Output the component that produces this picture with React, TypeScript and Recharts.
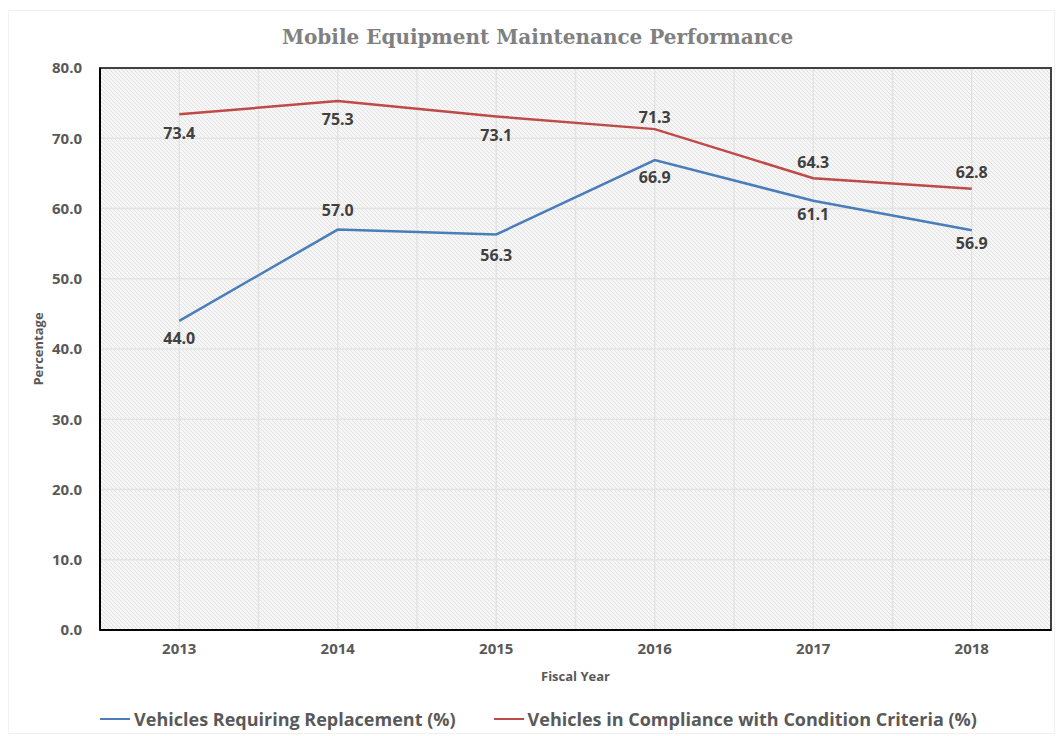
import React from 'react';
import {
  LineChart,
  Line,
  XAxis,
  YAxis,
  CartesianGrid,
  Legend,
  LabelList,
  Label,
  ReferenceArea,
} from 'recharts';

// Fiscal years shown on the category axis
const YEARS = ['2013', '2014', '2015', '2016', '2017', '2018'];
// Vehicles requiring replacement, percent
const REPLACEMENT = [44.0, 57.0, 56.3, 66.9, 61.1, 56.9];
// Vehicles in compliance with condition criteria, percent
const COMPLIANCE = [73.4, 75.3, 73.1, 71.3, 64.3, 62.8];
// Percentage axis ticks
const Y_TICKS = [0, 10, 20, 30, 40, 50, 60, 70, 80];

const SERIES_NAMES = {
  replacement: 'Vehicles Requiring Replacement (%)',
  compliance: 'Vehicles in Compliance with Condition Criteria (%)',
};

// Vertical nudge of each value label relative to its point (positive = below)
const REPLACEMENT_LABEL_DY = [17, -20, 21, 17, 13, 13];
const COMPLIANCE_LABEL_DY = [19, 18, 19, -12, -16, -17];

const BLUE = '#4a7ebb';
const RED = '#be4b48';
const FONT = '"Open Sans", "Liberation Sans", sans-serif';

// Each year sits on an integer slot; grid lines fall on the slots and halfway between them
const data = YEARS.map((year, i) => ({
  slot: i,
  year,
  replacement: REPLACEMENT[i],
  compliance: COMPLIANCE[i],
}));
const X_MIN = -0.5;
const X_MAX = YEARS.length - 0.5;
const X_TICKS: number[] = [];
for (let t = X_MIN; t <= X_MAX + 1e-9; t += 0.5) X_TICKS.push(t);

const yearLabel = (v: number) => (Number.isInteger(v) && YEARS[v] ? YEARS[v] : '');

const valueLabel = (offsets: number[]) => (props: any) => {
  const { x, y, value, index } = props;
  return (
    <text
      x={x}
      y={y + offsets[index]}
      textAnchor="middle"
      dominantBaseline="central"
      fill="#404040"
      fontFamily={FONT}
      fontWeight={700}
      fontSize={16}
    >
      {Number(value).toFixed(1)}
    </text>
  );
};

const LegendContent = () => (
  <div
    style={{
      height: 44,
      display: 'flex',
      justifyContent: 'center',
      alignItems: 'flex-start',
      paddingTop: 16,
      paddingLeft: 26,
      boxSizing: 'border-box',
      fontFamily: FONT,
      fontWeight: 700,
      fontSize: 18,
      color: '#595959',
    }}
  >
    {[
      { name: SERIES_NAMES.replacement, color: BLUE },
      { name: SERIES_NAMES.compliance, color: RED },
    ].map((item, i) => (
      <div
        key={item.name}
        style={{ display: 'flex', alignItems: 'center', marginLeft: i ? 38 : 0, lineHeight: '22px' }}
      >
        <span style={{ display: 'inline-block', width: 30, height: 2.5, background: item.color, marginRight: 4 }} />
        <span>{item.name}</span>
      </div>
    ))}
  </div>
);

export default function App() {
  return (
    <div
      style={{
        position: 'absolute',
        left: 0,
        top: 0,
        width: 1057,
        height: 736,
        background: '#ffffff',
      }}
    >
      <div
        style={{
          position: 'absolute',
          left: 8,
          top: 10,
          width: 1047,
          height: 724,
          border: '1px solid #f1f1f1',
          boxSizing: 'border-box',
        }}
      />
      <div
        style={{
          position: 'absolute',
          left: 0,
          top: 22,
          width: 1075,
          textAlign: 'center',
          fontFamily: '"DejaVu Serif", serif',
          fontWeight: 700,
          fontSize: 20,
          lineHeight: '30px',
          color: '#808080',
        }}
      >
        Mobile Equipment Maintenance Performance
      </div>
      <LineChart
        width={1057}
        height={736}
        data={data}
        margin={{ top: 68, right: 6, bottom: 0, left: 0 }}
      >
        <defs>
          <pattern id="hatch" width="4" height="4" patternUnits="userSpaceOnUse">
            <rect width="4" height="4" fill="#f6f6f6" />
            <path d="M-1,-1 L5,5 M3,-1 L5,1 M-1,3 L1,5" stroke="#e0e0e0" strokeWidth="0.9" />
          </pattern>
        </defs>
        <CartesianGrid
          xAxisId="main"
          yAxisId="main"
          fill="url(#hatch)"
          fillOpacity={1}
          stroke="#e3e3e3"
          strokeWidth={1.5}
        />
        <XAxis
          xAxisId="main"
          dataKey="slot"
          type="number"
          domain={[X_MIN, X_MAX]}
          ticks={X_TICKS}
          tickFormatter={yearLabel}
          interval={0}
          height={62}
          tickLine={false}
          tickSize={0}
          tickMargin={13}
          axisLine={{ stroke: '#000000', strokeWidth: 2 }}
          tick={{ fill: '#595959', fontFamily: FONT, fontWeight: 700, fontSize: 15 }}
        >
          <Label
            value="Fiscal Year"
            position="insideBottom"
            offset={11}
            style={{ fill: '#595959', fontFamily: FONT, fontWeight: 700, fontSize: 13 }}
          />
        </XAxis>
        <YAxis
          yAxisId="main"
          domain={[0, 80]}
          ticks={Y_TICKS}
          tickFormatter={(v: number) => v.toFixed(1)}
          width={100}
          tickLine={false}
          tickSize={0}
          tickMargin={18}
          axisLine={{ stroke: '#000000', strokeWidth: 2 }}
          tick={{ fill: '#595959', fontFamily: FONT, fontWeight: 700, fontSize: 15 }}
        >
          <Label
            value="Percentage"
            angle={-90}
            position="insideLeft"
            offset={38}
            style={{ textAnchor: 'middle', fill: '#595959', fontFamily: FONT, fontWeight: 700, fontSize: 13 }}
          />
        </YAxis>
        {/* plot frame */}
        <ReferenceArea
          xAxisId="main"
          yAxisId="main"
          x1={X_MIN}
          x2={X_MAX}
          y1={0}
          y2={80}
          fill="none"
          fillOpacity={0}
          stroke="#404040"
          strokeWidth={2}
          ifOverflow="visible"
        />
        <Legend verticalAlign="bottom" content={<LegendContent />} />
        <Line
          xAxisId="main"
          yAxisId="main"
          type="linear"
          dataKey="replacement"
          name={SERIES_NAMES.replacement}
          stroke={BLUE}
          strokeWidth={2.5}
          dot={false}
          activeDot={false}
          isAnimationActive={false}
        >
          <LabelList dataKey="replacement" content={valueLabel(REPLACEMENT_LABEL_DY)} />
        </Line>
        <Line
          xAxisId="main"
          yAxisId="main"
          type="linear"
          dataKey="compliance"
          name={SERIES_NAMES.compliance}
          stroke={RED}
          strokeWidth={2.5}
          dot={false}
          activeDot={false}
          isAnimationActive={false}
        >
          <LabelList dataKey="compliance" content={valueLabel(COMPLIANCE_LABEL_DY)} />
        </Line>
      </LineChart>
    </div>
  );
}
